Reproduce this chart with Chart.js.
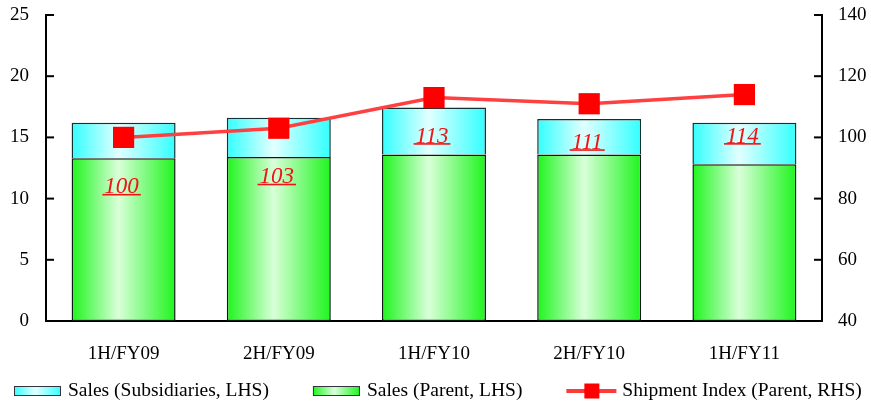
<!DOCTYPE html>
<html>
<head>
<meta charset="utf-8">
<script src="https://cdn.jsdelivr.net/npm/chart.js@4.4.1/dist/chart.umd.min.js"></script>
<style>
html,body{margin:0;padding:0;background:#fff}
#wrap{width:871px;height:406px}
</style>
</head>
<body>
<div id="wrap"><canvas id="c"></canvas></div>
<script>
const periods=['1H/FY09','2H/FY09','1H/FY10','2H/FY10','1H/FY11'];
const salesParent=[13.3,13.4,13.6,13.6,12.8];
const salesSubs=[2.9,3.2,3.85,2.9,3.4];
const shipIndex=[100,103,113,111,114];

const BAR_PCT=0.67;
const SERIF='"Liberation Serif","Times New Roman",serif';

// horizontal gradient per bar: bright edges, pale middle
function barFill(edge,mid){
  return function(ctx){
    const ch=ctx.chart,xs=ch.scales.x;
    if(!ch.chartArea||!xs||ctx.dataIndex===undefined) return edge;
    const cx=xs.getPixelForValue(ctx.dataIndex);
    const w=xs.width/periods.length*BAR_PCT;
    const g=ch.ctx.createLinearGradient(cx-w/2,0,cx+w/2,0);
    g.addColorStop(0,edge);g.addColorStop(0.45,mid);g.addColorStop(1,edge);
    return g;
  }
}

//  tick marks pointing into the plot
const innerTicks={id:'innerTicks',afterDraw(chart){
  const c=chart.ctx,y=chart.scales.y,y1=chart.scales.y1;
  c.save();c.strokeStyle='#000';c.lineWidth=2;
  y.ticks.forEach(t=>{const p=y.getPixelForValue(t.value);c.beginPath();c.moveTo(y.right,p);c.lineTo(y.right+8,p);c.stroke();});
  y1.ticks.forEach(t=>{const p=y1.getPixelForValue(t.value);c.beginPath();c.moveTo(y1.left,p);c.lineTo(y1.left-8,p);c.stroke();});
  c.restore();
}};

//  red underlined index values
const idxLabels={id:'idxLabels',afterDatasetsDraw(chart,args,opts){
  const c=chart.ctx,meta=chart.getDatasetMeta(2);
  c.save();
  c.font='italic 23px '+SERIF;c.fillStyle='#f01414';c.textAlign='center';c.textBaseline='alphabetic';
  meta.data.forEach((pt,i)=>{
    const yc=pt.y+opts.offsets[i];
    const txt=String(shipIndex[i]);
    c.fillText(txt,pt.x-2,yc+8);
    const w=c.measureText(txt).width;
    c.fillRect(pt.x-w/2-4,yc+8.5,w+4,1.6);
  });
  c.restore();
}};

//  legend drawn by hand to match spacing
const legendRow={id:'legendRow',afterDraw(chart){
  const c=chart.ctx,ds=chart.data.datasets;
  const yc=391;let x=14;
  c.save();
  c.font='19.5px '+SERIF;c.textBaseline='middle';c.textAlign='left';c.fillStyle='#000';
  [1,0,2].forEach(i=>{
    const d=ds[i];
    if(d.type==='line'){
      c.fillStyle='#ff3a3a';c.fillRect(x,yc-2,50,4);
      c.fillStyle='#ff0000';c.fillRect(x+18,yc-7.5,15,15);
      x+=56;
    }else{
      const g=c.createLinearGradient(x,0,x+47,0);
      g.addColorStop(0,d.legendEdge);g.addColorStop(0.45,d.legendMid);g.addColorStop(1,d.legendEdge);
      c.fillStyle=g;c.fillRect(x,yc-5,47,10);
      c.strokeStyle='#334';c.lineWidth=1;c.strokeRect(x+0.5,yc-4.5,46,9);
      x+=54;
    }
    c.fillStyle='#000';c.fillText(d.label,x,yc);
    x+=c.measureText(d.label).width+44;
  });
  c.restore();
}};

const tickFont={family:SERIF,size:19};
const axisBorder={display:true,color:'#000',width:2};

new Chart(document.getElementById('c'),{
  type:'bar',
  data:{
    labels:periods,
    datasets:[
      {label:'Sales (Parent, LHS)',data:salesParent,yAxisID:'y',stack:'s',order:1,
       backgroundColor:barFill('#1ef51e','#d9ffd9'),legendEdge:'#1ef51e',legendMid:'#d9ffd9',
       borderColor:'#0d1a14',borderWidth:1.5,borderSkipped:false,barPercentage:BAR_PCT,categoryPercentage:1},
      {label:'Sales (Subsidiaries, LHS)',data:salesSubs,yAxisID:'y',stack:'s',order:2,
       backgroundColor:barFill('#33ffff','#e2ffff'),legendEdge:'#33ffff',legendMid:'#e2ffff',
       borderColor:'#123232',borderWidth:1.5,borderSkipped:'start',barPercentage:BAR_PCT,categoryPercentage:1},
      {type:'line',label:'Shipment Index (Parent, RHS)',data:shipIndex,yAxisID:'y1',order:0,
       borderColor:'#ff4040',borderWidth:3.5,tension:0,fill:false,
       pointStyle:'rect',pointRadius:15,pointBackgroundColor:'#ff0000',pointBorderWidth:0}
    ]
  },
  options:{
    responsive:true,maintainAspectRatio:false,animation:false,events:[],
    layout:{padding:{top:15,left:0,right:0,bottom:0}},
    plugins:{legend:{display:false},tooltip:{enabled:false},idxLabels:{offsets:[48,47,37,37,40]}},
    scales:{
      x:{stacked:true,grid:{display:false,drawTicks:false},border:axisBorder,
         ticks:{color:'#000',font:tickFont,padding:22},afterFit:s=>{s.height=85}},
      y:{stacked:true,position:'left',min:0,max:25,
         ticks:{stepSize:5,color:'#000',font:tickFont,padding:17},
         grid:{display:false,drawTicks:false},border:axisBorder,
         afterFit:s=>{s.width=46;s.paddingTop=0;s.paddingBottom=0}},
      y1:{position:'right',min:40,max:140,
         ticks:{stepSize:20,color:'#000',font:tickFont,padding:16},
         grid:{display:false,drawTicks:false},border:axisBorder,
         afterFit:s=>{s.width=49;s.paddingTop=0;s.paddingBottom=0}}
    }
  },
  plugins:[innerTicks,idxLabels,legendRow]
});
</script>
</body>
</html>
